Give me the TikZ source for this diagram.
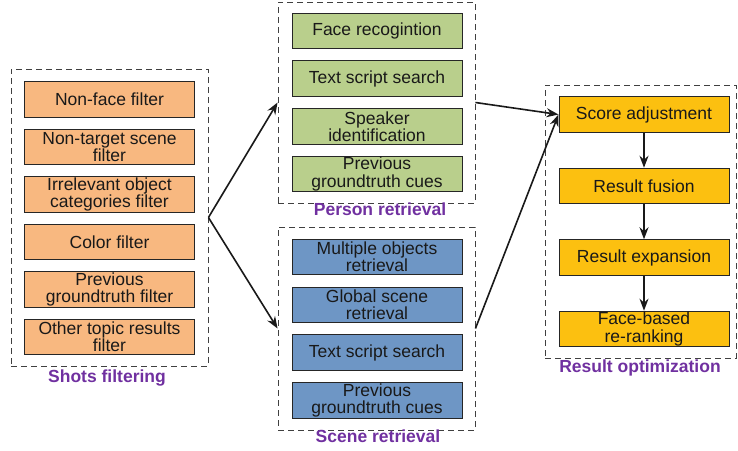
\documentclass[tikz,border=0pt]{standalone}
\usepackage{fontspec}
\setmainfont{Liberation Sans}
\usetikzlibrary{positioning,arrows.meta}
\usepackage{xcolor}
\definecolor{filterorange}{RGB}{248,184,128}
\definecolor{persongreen}{RGB}{185,207,140}
\definecolor{sceneblue}{RGB}{110,150,197}
\definecolor{optyellow}{RGB}{252,192,16}
\definecolor{labelpurple}{RGB}{112,48,160}
\newcommand{\boxfont}{\fontsize{17.5}{17.3}\selectfont}
\newcommand{\grouplabelfont}{\fontsize{17.5}{17.5}\selectfont\bfseries}

\begin{document}
\begin{tikzpicture}[x=1pt,y=-1pt,>={Stealth[length=12pt,width=9pt]},
  group/.style={draw=black!75,dash pattern=on 6pt off 4pt,line width=0.9pt},
  stepbox/.style={draw=black!85,line width=1pt,minimum width=170pt,minimum height=35.5pt,inner sep=1pt,align=center,text=black!90,font=\boxfont},
  grouplabel/.style={text=labelpurple,font=\grouplabelfont,anchor=base},
  flow/.style={->,line width=1.6pt,black!90}]
\useasboundingbox (0,0) rectangle (738,450);
% dashed groups
\node[group,minimum width=197pt,minimum height=297pt] (shots) at (109.5,217.5) {};
\node[group,minimum width=197pt,minimum height=201pt] (person) at (376.5,102.5) {};
\node[group,minimum width=197pt,minimum height=203pt] (scene) at (376.5,328.5) {};
\node[group,minimum width=191pt,minimum height=273pt] (result) at (640.5,221.5) {};
% shots filtering
\foreach \name/\txt [count=\i from 0] in {nonface/Non-face filter,nontarget/{Non-target scene\\filter},irrelevant/{Irrelevant object\\categories filter},color/Color filter,prevfilter/{Previous\\groundtruth filter},othertopic/{Other topic results\\filter}}
  \node[stepbox,fill=filterorange] (\name) at (109.5,99.5+47.5*\i) {\txt};
% person retrieval
\foreach \name/\txt [count=\i from 0] in {face/Face recogintion,textp/Text script search,speaker/{Speaker\\identification},cuesp/{Previous\\groundtruth cues}}
  \node[stepbox,fill=persongreen] (\name) at (377,31+47.7*\i) {\txt};
% scene retrieval
\foreach \name/\txt [count=\i from 0] in {multobj/{Multiple objects\\retrieval},globalsc/{Global scene\\retrieval},texts/Text script search,cuess/{Previous\\groundtruth cues}}
  \node[stepbox,fill=sceneblue] (\name) at (377,257+47.8*\i) {\txt};
% result optimization
\foreach \name/\txt [count=\i from 0] in {score/Score adjustment,fusion/Result fusion,expansion/Result expansion,rerank/{Face-based\\re-ranking}}
  \node[stepbox,fill=optyellow] (\name) at (644,114.5+71.5*\i) {\txt};
% group labels
\node[grouplabel] (shotslabel) at (107,382) {Shots filtering};
\node[grouplabel] (personlabel) at (380,215) {Person retrieval};
\node[grouplabel] (scenelabel) at (378,442) {Scene retrieval};
\node[grouplabel] (resultlabel) at (640,372) {Result optimization};
% connectors
\draw[flow] (shots.east) -- (person.west);
\draw[flow] (shots.east) -- (scene.west);
\draw[flow] (person.east) -- (score.west);
\draw[flow] (scene.east) -- (score.west);
\foreach \a/\b in {score/fusion,fusion/expansion,expansion/rerank}
  \draw[flow] (\a) -- (\b);
\end{tikzpicture}
\end{document}
